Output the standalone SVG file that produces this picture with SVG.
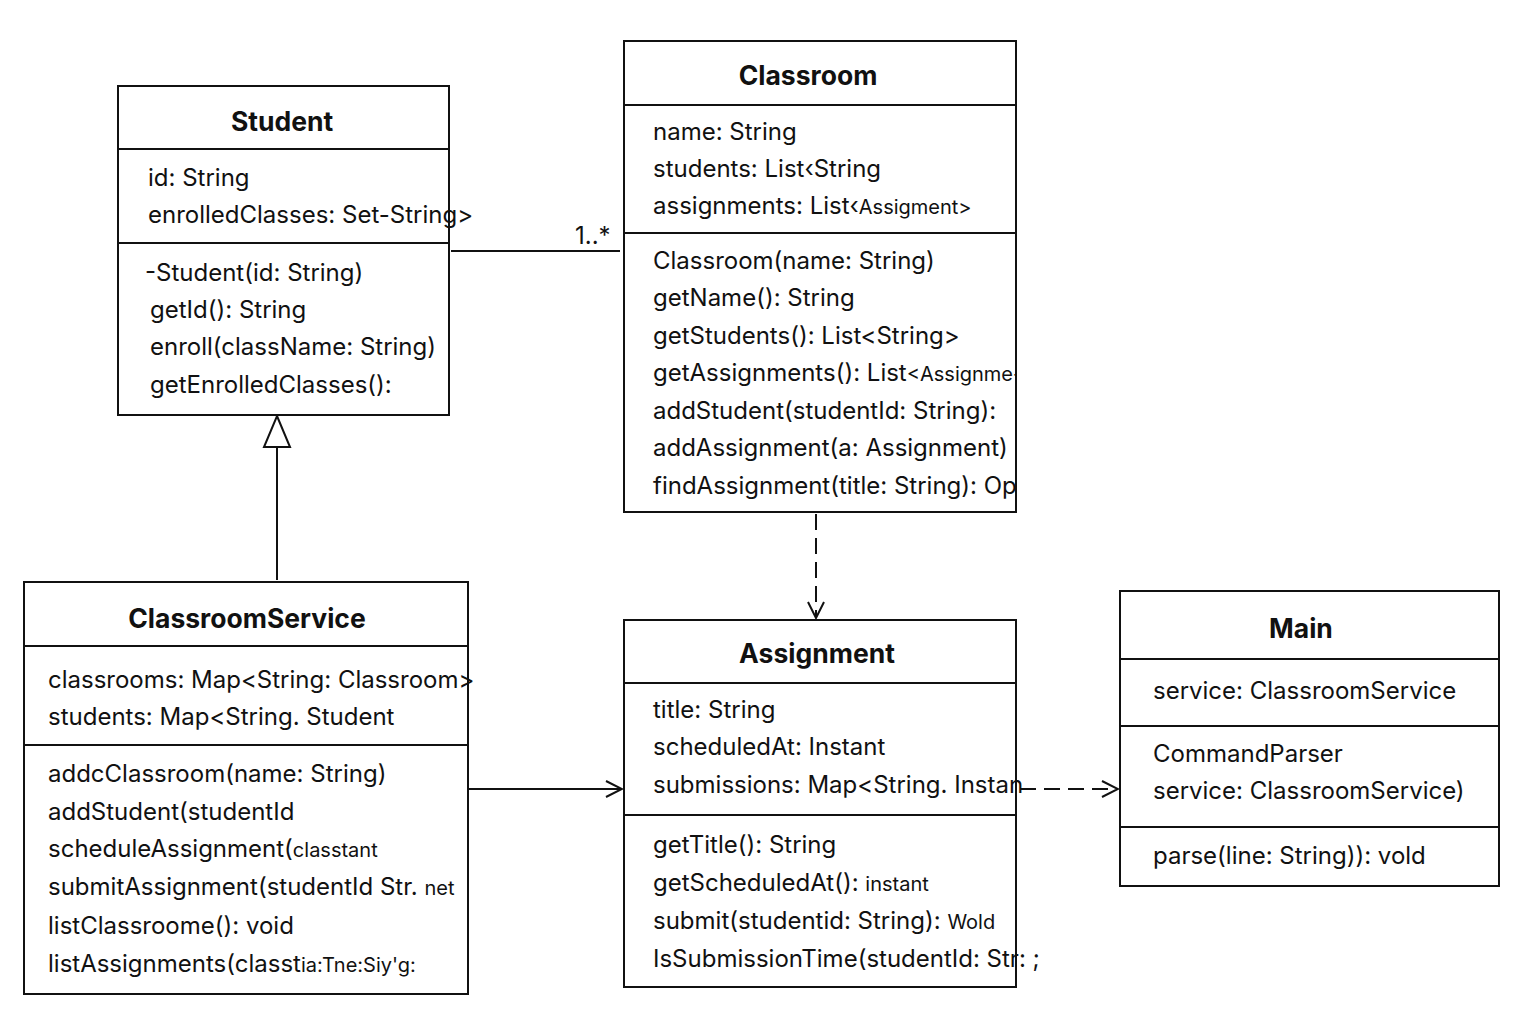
<svg xmlns="http://www.w3.org/2000/svg" width="1536" height="1024" viewBox="0 0 1536 1024">
<style>
.box{fill:#fff;stroke:#111;stroke-width:2}
.div{stroke:#111;stroke-width:2}
.t{font-family:Inter,"Noto Sans","Liberation Sans",sans-serif;font-size:24px;fill:#111}
.s{font-size:20px}
.h{font-family:Inter,"Noto Sans","Liberation Sans",sans-serif;font-size:26.5px;font-weight:bold;fill:#111;text-anchor:middle}
.ln{stroke:#111;stroke-width:2;fill:none}
.dash{stroke-dasharray:16 8}
</style>
<defs>
<marker id="open" viewBox="0 0 20 20" refX="18" refY="10" markerWidth="20" markerHeight="20" markerUnits="userSpaceOnUse" orient="auto">
<path d="M2,2 L18,10 L2,18" fill="none" stroke="#111" stroke-width="2"/>
</marker>
<clipPath id="clipClassroom"><rect x="624" y="41" width="392" height="471"/></clipPath>
</defs>

<g id="connectors">
<line class="ln" x1="451" y1="251" x2="620" y2="251"/>
<text class="t" x="575" y="244">1..*</text>
<path class="ln" d="M277,580 L277,447"/>
<path d="M277,416 L290,447 L264,447 Z" fill="#fff" stroke="#111" stroke-width="2"/>
<line class="ln" x1="468" y1="789" x2="622" y2="789" marker-end="url(#open)"/>
<line class="ln dash" x1="816" y1="514" x2="816" y2="618" marker-end="url(#open)"/>
<line class="ln dash" x1="1020" y1="789" x2="1118" y2="789" marker-end="url(#open)"/>
</g>

<g id="Student">
<rect class="box" x="118" y="86" width="331" height="329"/>
<line class="div" x1="118" y1="149" x2="449" y2="149"/>
<line class="div" x1="118" y1="243" x2="449" y2="243"/>
<text class="h" x="282" y="131">Student</text>
<text class="t" x="148" y="186">id: String</text>
<text class="t" x="148" y="223">enrolledClasses: Set-String&gt;</text>
<text class="t" x="145" y="281">-Student(id: String)</text>
<text class="t" x="150" y="318">getId(): String</text>
<text class="t" x="150" y="355">enroll(className: String)</text>
<text class="t" x="150" y="393">getEnrolledClasses():</text>
</g>

<g id="Classroom">
<rect class="box" x="624" y="41" width="392" height="471"/>
<line class="div" x1="624" y1="105" x2="1016" y2="105"/>
<line class="div" x1="624" y1="233" x2="1016" y2="233"/>
<text class="h" x="808" y="85">Classroom</text>
<text class="t" x="653" y="140">name: String</text>
<text class="t" x="653" y="177">students: List‹String</text>
<text class="t" x="653" y="214">assignments: List‹<tspan class="s">Assigment&gt;</tspan></text>
<g clip-path="url(#clipClassroom)">
<text class="t" x="653" y="269">Classroom(name: String)</text>
<text class="t" x="653" y="306">getName(): String</text>
<text class="t" x="653" y="344">getStudents(): List&lt;String&gt;</text>
<text class="t" x="653" y="381">getAssignments(): List<tspan class="s">&lt;Assignme-</tspan></text>
<text class="t" x="653" y="419">addStudent(studentId: String):</text>
<text class="t" x="653" y="456">addAssignment(a: Assignment)</text>
<text class="t" x="653" y="494">findAssignment(title: String): Op</text>
</g>
</g>

<g id="ClassroomService">
<rect class="box" x="24" y="582" width="444" height="412"/>
<line class="div" x1="24" y1="646" x2="468" y2="646"/>
<line class="div" x1="24" y1="745" x2="468" y2="745"/>
<text class="h" x="247" y="628">ClassroomService</text>
<text class="t" x="48" y="688">classrooms: Map&lt;String: Classroom&gt;</text>
<text class="t" x="48" y="725">students: Map&lt;String. Student</text>
<text class="t" x="48" y="782">addcClassroom(name: String)</text>
<text class="t" x="48" y="820">addStudent(studentId</text>
<text class="t" x="48" y="857">scheduleAssignment(<tspan class="s">classtant</tspan></text>
<text class="t" x="48" y="895">submitAssignment(studentId Str. <tspan class="s">net</tspan></text>
<text class="t" x="48" y="934">listClassroome(): void</text>
<text class="t" x="48" y="972">listAssignments(classt<tspan class="s">ia:Tne:Siy'g:</tspan></text>
</g>

<g id="Assignment">
<rect class="box" x="624" y="620" width="392" height="367"/>
<line class="div" x1="624" y1="683" x2="1016" y2="683"/>
<line class="div" x1="624" y1="815" x2="1016" y2="815"/>
<text class="h" x="817" y="663">Assignment</text>
<text class="t" x="653" y="718">title: String</text>
<text class="t" x="653" y="755">scheduledAt: Instant</text>
<text class="t" x="653" y="793">submissions: Map&lt;String. Instan</text>
<text class="t" x="653" y="853">getTitle(): String</text>
<text class="t" x="653" y="891">getScheduledAt(): <tspan class="s">instant</tspan></text>
<text class="t" x="653" y="929">submit(studentid: String): <tspan class="s">Wold</tspan></text>
<text class="t" x="653" y="967">IsSubmissionTime(studentId: Str: ;</text>
</g>

<g id="Main">
<rect class="box" x="1120" y="591" width="379" height="295"/>
<line class="div" x1="1120" y1="659" x2="1499" y2="659"/>
<line class="div" x1="1120" y1="726" x2="1499" y2="726"/>
<line class="div" x1="1120" y1="827" x2="1499" y2="827"/>
<text class="h" x="1301" y="638">Main</text>
<text class="t" x="1153" y="699">service: ClassroomService</text>
<text class="t" x="1153" y="762">CommandParser</text>
<text class="t" x="1153" y="799">service: ClassroomService)</text>
<text class="t" x="1153" y="864">parse(line: String)): vold</text>
</g>
</svg>
